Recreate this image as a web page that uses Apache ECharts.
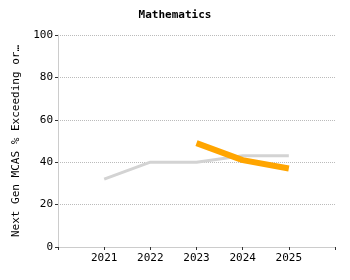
<!DOCTYPE html>
<html>
<head>
<meta charset="utf-8">
<script src="https://cdn.jsdelivr.net/npm/echarts@6/dist/echarts.min.js"></script>
<style>
  html, body { margin: 0; padding: 0; background: #fff; }
  #main { width: 350px; height: 280px; }
</style>
</head>
<body>
<div id="main"></div>
<script>
  var years = [2021, 2022, 2023, 2024, 2025];
  var grayValues = [32, 40, 40, 43, 43];
  var orangeYears = [2023, 2024, 2025];
  var orangeValues = [49, 41, 37];
  var yTicks = [0, 20, 40, 60, 80, 100];

  var font = 'DejaVu Sans Mono';

  function pairs(xs, ys) {
    return xs.map(function (x, i) { return [x, ys[i]]; });
  }

  var myChart = echarts.init(document.getElementById('main'));
  var option = {
    animation: false,
    title: {
      text: 'Mathematics',
      left: 'center',
      top: 5,
      textStyle: { fontFamily: font, fontSize: 11, fontWeight: 'bold', color: '#000' }
    },
    grid: { left: 58, right: 15, top: 35, bottom: 33 },
    xAxis: {
      type: 'value',
      min: 2020,
      max: 2026,
      interval: 1,
      axisLine: { lineStyle: { color: '#ccc' } },
      axisTick: { show: true, length: 3, lineStyle: { color: '#333' } },
      splitLine: { show: false },
      axisLabel: {
        fontFamily: font, fontSize: 11, color: '#000', margin: 6,
        formatter: function (v) { return years.indexOf(v) >= 0 ? String(v) : ''; }
      }
    },
    yAxis: {
      type: 'value',
      min: yTicks[0],
      max: yTicks[yTicks.length - 1],
      interval: 20,
      name: 'Next Gen MCAS % Exceeding or…',
      nameLocation: 'middle',
      nameGap: 36,
      nameTextStyle: { fontFamily: font, fontSize: 11, color: '#000' },
      axisLine: { show: true, lineStyle: { color: '#ccc' } },
      axisTick: { show: true, length: 3, lineStyle: { color: '#333' } },
      axisLabel: { fontFamily: font, fontSize: 11, color: '#000', margin: 5 },
      splitLine: { lineStyle: { color: '#bbb', type: 'dotted' } }
    },
    series: [
      {
        type: 'line',
        data: pairs(years, grayValues),
        showSymbol: false,
        lineStyle: { color: '#d3d3d3', width: 3 }
      },
      {
        type: 'line',
        data: pairs(orangeYears, orangeValues),
        showSymbol: false,
        lineStyle: { color: '#ffa500', width: 6 }
      }
    ]
  };
  myChart.setOption(option);
</script>
</body>
</html>
